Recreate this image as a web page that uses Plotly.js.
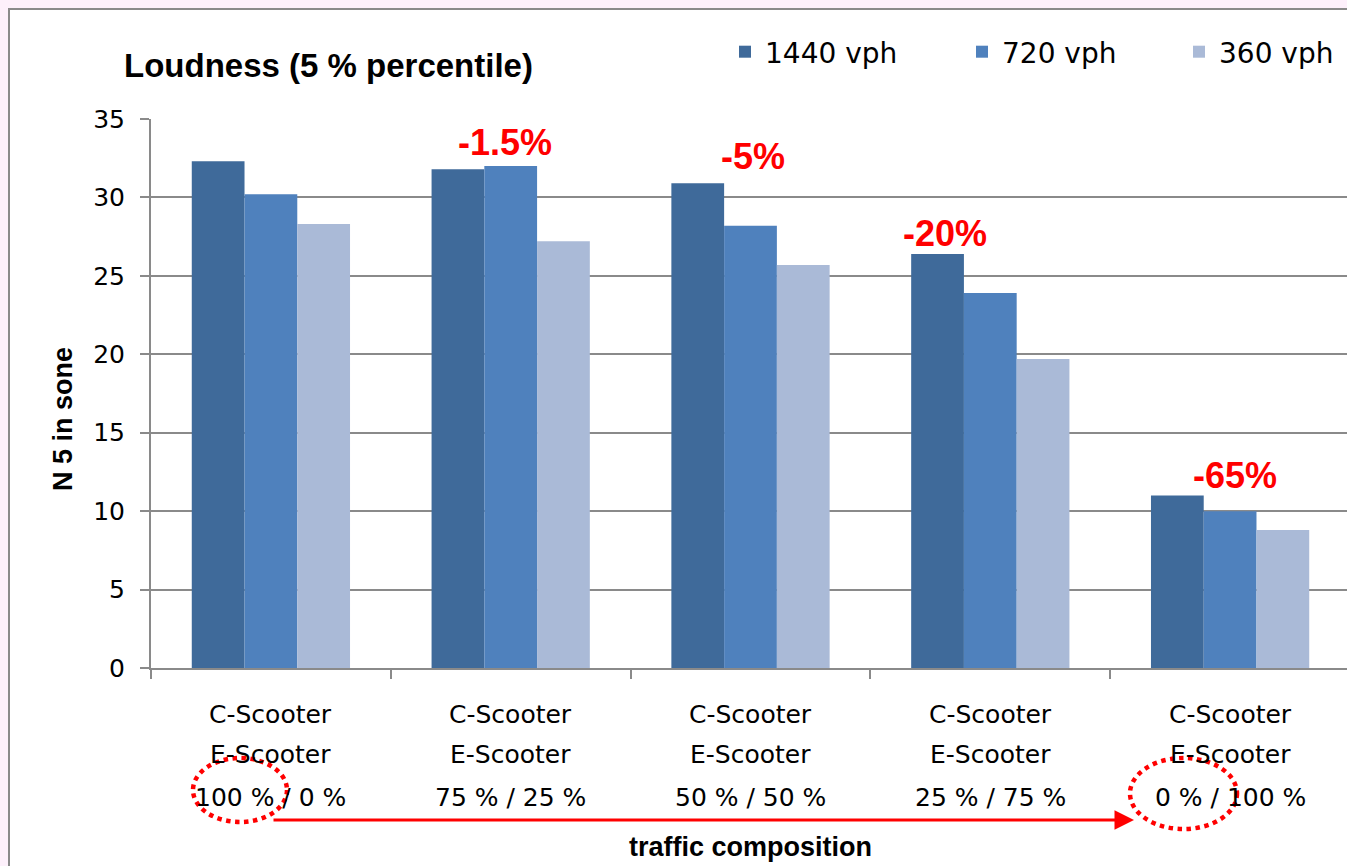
<!DOCTYPE html>
<html>
<head>
<meta charset="utf-8">
<script src="https://cdn.plot.ly/plotly-3.0.1.min.js"></script>
<style>
  html, body { margin: 0; padding: 0; overflow: hidden; background: #fdf0fb; }
  #chart { width: 1350px; height: 866px; }
</style>
</head>
<body>
<div id="chart"></div>
<script>
// Traffic composition (C-Scooter share / E-Scooter share)
const shares = ['100 % / 0 %', '75 % / 25 %', '50 % / 50 %', '25 % / 75 %', '0 % / 100 %'];
const labelLineC = 'C-Scooter';
const labelLineE = 'E-Scooter';

// N5 loudness in sone for each traffic volume
const vph1440 = [32.3, 31.8, 30.9, 26.4, 11.0];
const vph720  = [30.2, 32.0, 28.2, 23.9, 10.0];
const vph360  = [28.3, 27.2, 25.7, 19.7, 8.8];

const seriesNames  = ['1440 vph', '720 vph', '360 vph'];
const seriesColors = ['#3f6a9a', '#4f81bd', '#aabad7'];

// Relative change of loudness against the all-combustion mix
const changeLabels = ['-1.5%', '-5%', '-20%', '-65%'];

// Plot-area geometry (pixels) and helpers to place decorations
const W = 1350, H = 866;
const PL = 151, PR = 1350, PT = 119, PB = 668;
const px = v => (v - PL) / (PR - PL);
const py = v => (PB - v) / (PB - PT);

const GRAY = '#8a8a8a';
const RED = '#ff0000';
const REG = 'DejaVu Sans';
const BOLD = 'Liberation Sans';

const seriesData = [vph1440, vph720, vph360];
const legendIds = ['legend', 'legend2', 'legend3'];
const traces = seriesData.map((vals, i) => ({
  type: 'bar',
  name: seriesNames[i],
  x: shares,
  y: vals,
  marker: { color: seriesColors[i] },
  legend: legendIds[i],
  hoverinfo: 'x+y+name'
}));

const legendX = [725, 962, 1179];
const legendBase = (xpix) => ({
  x: px(xpix), xref: 'paper', xanchor: 'left',
  y: 1 - 52 / H, yref: 'container', yanchor: 'middle',
  orientation: 'h',
  bgcolor: 'rgba(0,0,0,0)',
  font: { family: REG, size: 28, color: '#000' }
});

const annotations = [];

// Category labels, three lines each
shares.forEach(s => {
  [[labelLineC, 714], [labelLineE, 754], [s, 797]].forEach(([t, yy]) => {
    annotations.push({
      text: t, x: s, xref: 'x', y: py(yy), yref: 'paper',
      xanchor: 'center', yanchor: 'middle', showarrow: false,
      font: { family: REG, size: 25, color: '#000' }
    });
  });
});

// Percentage-change callouts above groups 2..5
const changePos = [[0.975, 33.5], [2.01, 32.6], [2.81, 27.7], [4.02, 12.3]];
changeLabels.forEach((t, i) => {
  annotations.push({
    text: t, x: changePos[i][0], xref: 'x', y: changePos[i][1], yref: 'y',
    xanchor: 'center', yanchor: 'middle', showarrow: false,
    font: { family: BOLD, size: 36, color: RED, weight: 'bold' }
  });
});

// Y-axis title
annotations.push({
  text: 'N 5 in sone', textangle: -90,
  x: px(63), xref: 'paper', y: py(419), yref: 'paper',
  xanchor: 'center', yanchor: 'middle', showarrow: false,
  font: { family: BOLD, size: 27, color: '#000', weight: 'bold' }
});

// Arrow from the first to the last mix
annotations.push({
  text: '', x: px(1134), xref: 'paper', y: py(820), yref: 'paper',
  ax: -(1134 - 272), ay: 0, axref: 'pixel', ayref: 'pixel',
  showarrow: true, arrowhead: 2, arrowsize: 1.3, arrowwidth: 3, arrowcolor: RED
});

const shapes = [
  // outer chart frame
  { type: 'rect', xref: 'paper', yref: 'paper', layer: 'below',
    x0: px(9), x1: px(1500), y0: py(1000), y1: py(9),
    line: { color: GRAY, width: 2 }, fillcolor: '#ffffff' },
  // dotted highlight rings around the two extreme mixes
  { type: 'circle', xref: 'paper', yref: 'paper',
    x0: px(193), x1: px(287), y0: py(822), y1: py(758),
    line: { color: RED, width: 4.5, dash: 'dot' } },
  { type: 'circle', xref: 'paper', yref: 'paper',
    x0: px(1130), x1: px(1237), y0: py(829), y1: py(758),
    line: { color: RED, width: 4.5, dash: 'dot' } }
];

const layout = {
  width: W, height: H,
  margin: { l: PL, r: W - PR, t: PT, b: H - PB, pad: 0 },
  paper_bgcolor: '#fdf0fb',
  plot_bgcolor: 'rgba(0,0,0,0)',
  barmode: 'group',
  bargap: 0.34,
  bargroupgap: 0,
  title: {
    text: 'Loudness (5 % percentile)',
    font: { family: BOLD, size: 33, color: '#000', weight: 'bold' },
    x: 124 / W, xref: 'container', xanchor: 'left',
    y: 1 - 65 / H, yref: 'container', yanchor: 'middle'
  },
  xaxis: {
    type: 'category',
    tickson: 'boundaries',
    ticks: 'outside', ticklen: 9, tickwidth: 2, tickcolor: GRAY,
    showline: true, linecolor: GRAY, linewidth: 2,
    showgrid: false, zeroline: false,
    showticklabels: false,
    automargin: false,
    title: {
      text: 'traffic composition', standoff: 168,
      font: { family: BOLD, size: 27, color: '#000', weight: 'bold' }
    }
  },
  yaxis: {
    range: [0, 35], dtick: 5, tick0: 0,
    ticks: 'outside', ticklen: 9, tickwidth: 2, tickcolor: GRAY,
    showline: true, linecolor: GRAY, linewidth: 2,
    showgrid: true, gridcolor: GRAY, gridwidth: 2,
    zeroline: false,
    automargin: false,
    ticklabelstandoff: 10,
    tickfont: { family: REG, size: 25, color: '#000' }
  },
  legend: legendBase(legendX[0]),
  legend2: legendBase(legendX[1]),
  legend3: legendBase(legendX[2]),
  annotations: annotations,
  shapes: shapes,
  showlegend: true
};

Plotly.newPlot('chart', traces, layout, { displayModeBar: false });
</script>
</body>
</html>
